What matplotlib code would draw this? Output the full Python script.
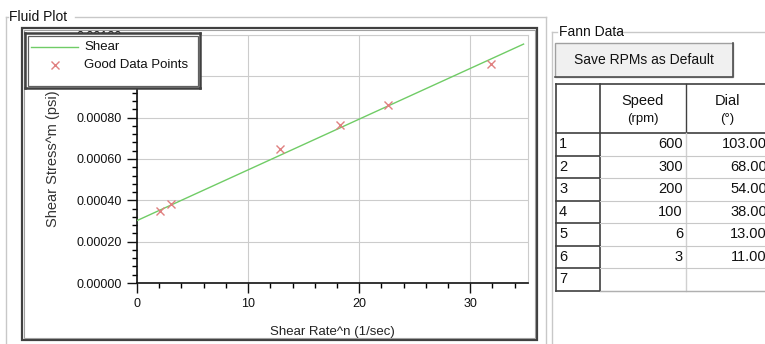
import matplotlib
matplotlib.use('Agg')
import matplotlib.pyplot as plt
from matplotlib.patches import Rectangle
from matplotlib.ticker import MultipleLocator, FormatStrFormatter

plt.rcParams['font.family'] = ['Liberation Sans', 'DejaVu Sans']

# data
shear_x = [0.0, 34.8]
shear_y = [0.000302, 0.001156]
good_x = [2.07, 3.04, 12.9, 18.3, 22.6, 31.9]
good_y = [0.000349, 0.000382, 0.000649, 0.000766, 0.000863, 0.00106]
series_names = ['Shear', 'Good Data Points']

row_ids = ['1', '2', '3', '4', '5', '6', '7']
speed_rpm = ['600', '300', '200', '100', '6', '3', '']
dial_deg = ['103.00', '68.00', '54.00', '38.00', '13.00', '11.00', '']
col_titles = [('Speed', '(rpm)'), ('Dial', '(°)')]

W, H = 765, 344
fig = plt.figure(figsize=(W / 100, H / 100), dpi=100, facecolor='white')

# background "window" drawn in pixel coordinates
ui = fig.add_axes([0, 0, 1, 1], zorder=-1)
ui.set_xlim(0, W)
ui.set_ylim(H, 0)
ui.axis('off')

box_c = '#c8c8c8'
dark = '#404040'
txt_c = '#111111'
green = '#70cc66'
pink = '#e08080'

# Fluid Plot group box
ui.plot([6, 6], [17, H], color=box_c, lw=1)
ui.plot([6, 8], [17, 17], color=box_c, lw=1)
ui.plot([75, 546], [17, 17], color=box_c, lw=1)
ui.plot([546, 546], [17, H], color=box_c, lw=1)
ui.text(9, 17, 'Fluid Plot', fontsize=10, va='center', ha='left', color=txt_c)

# plot panel frame
ui.add_patch(Rectangle((22, 28), 515, 312, fill=False, ec=dark, lw=1.6))
ui.add_patch(Rectangle((24, 30), 511, 308, fill=False, ec='#a0a0a0', lw=0.8))

# Fann Data group box
ui.plot([552, 552], [32, H], color=box_c, lw=1)
ui.plot([552, 557], [32, 32], color=box_c, lw=1)
ui.plot([615, W], [32, 32], color=box_c, lw=1)
ui.text(559, 32, 'Fann Data', fontsize=10, va='center', ha='left', color=txt_c)

# button
ui.add_patch(Rectangle((555, 43), 178, 34, fc='#f0f0f0', ec='#a0a0a0', lw=1))
ui.plot([555, 733, 733], [77, 77, 43], color='#505050', lw=1.2)
ui.text(644, 60, 'Save RPMs as Default', fontsize=10, ha='center', va='center',
        color=txt_c)

# table
tx0, tx1, tx2, tx3 = 556, 600, 686, 800
ty_top, ty_head = 84, 133
row_h = 22.5
n_rows = len(row_ids)
ty_bot = ty_head + n_rows * row_h
ui.add_patch(Rectangle((tx0, ty_top), tx3 - tx0, ty_bot - ty_top, fc='white',
                       ec='none'))
ui.plot([tx0, tx3], [ty_top, ty_top], color=dark, lw=1.2)
ui.plot([tx0, tx3], [ty_head, ty_head], color=dark, lw=1.2)
ui.plot([tx0, tx0], [ty_top, ty_bot], color=dark, lw=1.2)
ui.plot([tx1, tx1], [ty_top, ty_bot], color=dark, lw=1.2)
ui.plot([tx2, tx2], [ty_top, ty_head], color=dark, lw=1.0)
ui.plot([tx2, tx2], [ty_head, ty_bot], color='#d0d0d0', lw=1.0)
for i, name in enumerate(row_ids):
    y0 = ty_head + i * row_h
    y1 = y0 + row_h
    ui.plot([tx0, tx1], [y1, y1], color=dark, lw=1.2)
    ui.plot([tx1, tx3], [y1, y1], color='#c8c8c8', lw=0.8)
    yc = (y0 + y1) / 2
    ui.text(tx0 + 3, yc, name, fontsize=10.5, ha='left', va='center', color=txt_c)
    ui.text(tx2 - 3, yc, speed_rpm[i], fontsize=10.5, ha='right', va='center',
            color=txt_c)
    ui.text(W + 2, yc, dial_deg[i], fontsize=10.5, ha='right', va='center',
            color=txt_c, clip_on=True)
ui.plot([tx1, tx3], [ty_bot, ty_bot], color='#b0b0b0', lw=1.0)
for (top, bottom), xc in zip(col_titles, [(tx1 + tx2) / 2, (tx2 + W + 4) / 2]):
    ui.text(xc, 101, top, fontsize=10.5, ha='center', va='center', color=txt_c)
    ui.text(xc, 119, bottom, fontsize=9.5, ha='center', va='center', color=txt_c)

# the chart itself
ax = fig.add_axes([137 / W, 1 - 283 / H, (528 - 137) / W, (283 - 35) / H])
ax.set_xlim(0, 35.2)
ax.set_ylim(0, 0.0012)
ax.plot(shear_x, shear_y, color=green, lw=1, zorder=3)
ax.plot(good_x, good_y, ls='none', marker='x', ms=6, mew=1, color=pink,
        zorder=4)

ax.xaxis.set_major_locator(MultipleLocator(10))
ax.xaxis.set_minor_locator(MultipleLocator(2))
ax.yaxis.set_major_locator(MultipleLocator(0.0002))
ax.yaxis.set_minor_locator(MultipleLocator(0.00004))
ax.yaxis.set_major_formatter(FormatStrFormatter('%.5f'))
ax.grid(True, which='major', color='#cccccc', lw=0.8)
ax.set_axisbelow(True)
ax.tick_params(which='major', direction='out', length=7, width=1, labelsize=9,
               colors=txt_c, pad=4)
ax.tick_params(which='minor', direction='out', length=3.5, width=1)
for side in ['top', 'right']:
    ax.spines[side].set_color('#cccccc')
    ax.spines[side].set_linewidth(0.8)
for side in ['left', 'bottom']:
    ax.spines[side].set_color(txt_c)
    ax.spines[side].set_linewidth(1.2)
ax.set_xlabel('Shear Rate^n (1/sec)', fontsize=9.5, labelpad=11, color='#222222')
ax.set_ylabel('Shear Stress^m (psi)', fontsize=10.5, labelpad=12, color='#333333')

# legend box, drawn as its own small panel above the chart
lg = fig.add_axes([25 / W, 1 - 88 / H, 175 / W, 55 / H], zorder=5)
lg.set_xlim(0, 175)
lg.set_ylim(55, 0)
lg.set_xticks([])
lg.set_yticks([])
lg.set_facecolor('white')
for s in lg.spines.values():
    s.set_color(dark)
    s.set_linewidth(1.8)
lg.add_patch(Rectangle((2.5, 2.5), 170, 50, fill=False, ec='#606060', lw=0.9))
lg.plot([6, 53], [14, 14], color=green, lw=1)
lg.plot([30], [32], ls='none', marker='x', ms=6, mew=1, color=pink)
for yy, name in zip([14, 32], series_names):
    lg.text(59, yy, name, fontsize=9.5, ha='left', va='center', color=txt_c)

fig.savefig('out.png', dpi=100, facecolor='white')
